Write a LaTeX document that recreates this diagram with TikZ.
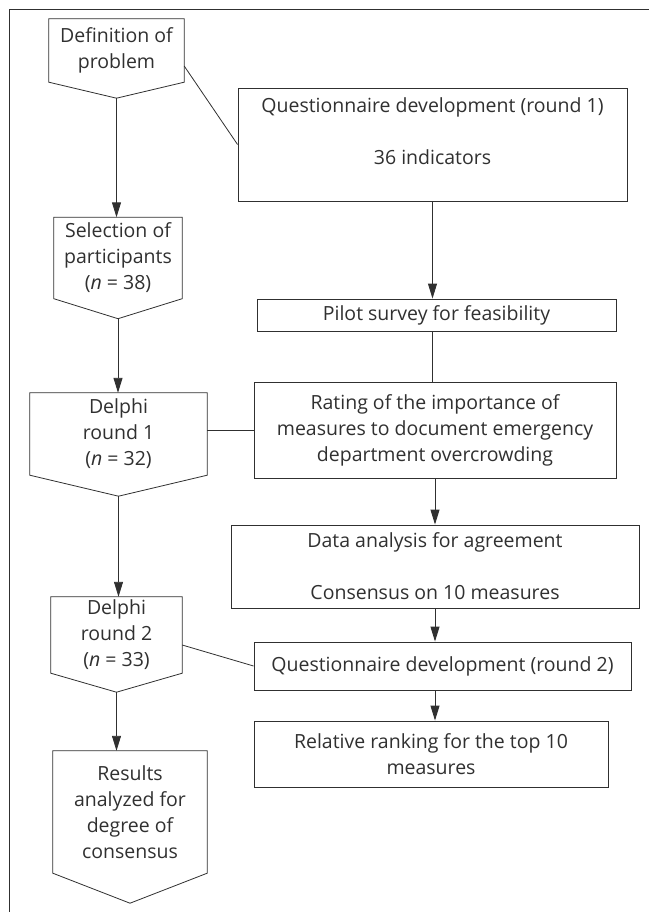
\documentclass[tikz,border=0pt]{standalone}
\usepackage{fontspec}
\setmainfont{Open Sans}
\usetikzlibrary{arrows.meta}
\usepackage{xcolor}
\definecolor{ink}{HTML}{303030}

\begin{document}
\begin{tikzpicture}[x=1pt,y=-1pt]
        \tikzset{
            every node/.style={
                font=\fontsize{19.5}{26}\selectfont,
                text=ink,
                align=center,
                inner sep=0pt
            },
            box/.style={draw=ink,line width=0.9pt},
            link/.style={draw=ink,line width=0.8pt},
            flow/.style={draw=ink,line width=0.9pt,
                -{Triangle[length=15pt,width=9pt]}}
        }
        \useasboundingbox (0,0) rectangle (649,912);
        % outer frame (top and left only)
        \draw[link] (9,912) -- (9,9) -- (649,9);
        % left column (pentagons)
        \node[minimum width=135pt,minimum height=63pt] (def) at (116.5,50.5)
            {Definition of\\problem};
        \node[minimum width=128pt,minimum height=81pt] (sel) at (118,258)
            {Selection of\\participants\\(\textit{n} = 38)};
        \node[minimum width=177pt,minimum height=82pt] (dr1) at (118.5,434)
            {Delphi\\round 1\\(\textit{n} = 32)};
        \node[minimum width=131pt,minimum height=76pt] (dr2) at (116.5,635)
            {Delphi\\round 2\\(\textit{n} = 33)};
        \node[minimum width=154pt,minimum height=122pt] (res) at (130,812)
            {Results\\analyzed for\\degree of\\consensus};
        % right column (boxes)
        \node[box,minimum width=389pt,minimum height=113pt] (qr1) at (432.5,144.5)
            {Questionnaire development (round 1)\\ \\36 indicators\\ \mbox{}};
        \node[box,minimum width=359pt,minimum height=32pt] (pilot) at (436.5,315)
            {Pilot survey for feasibility};
        \node[box,minimum width=362pt,minimum height=96pt] (rate) at (435,430)
            {Rating of the importance of\\measures to document emergency\\department overcrowding};
        \node[box,minimum width=408pt,minimum height=83pt] (data) at (435,566.5)
            {Data analysis for agreement\\ \\Consensus on 10 measures};
        \node[box,minimum width=377pt,minimum height=48pt] (qr2) at (442.5,666)
            {Questionnaire development (round 2)};
        \node[box,minimum width=354pt,minimum height=66pt] (rank) at (431,754)
            {Relative ranking for the top 10\\measures};
        % pentagon outlines, with a named tip each
        \foreach \n/\t in {def/16,sel/20,dr1/21,dr2/19,res/30} {
            \coordinate (\n-tip) at ([yshift=-\t pt]\n.south);
            \draw[link] (\n.north west) -- (\n.north east) -- (\n.south east)
                -- (\n-tip) -- (\n.south west) -- cycle;
        }
        % left column arrows
        \draw[flow] (def-tip) -- (def-tip |- sel.north);
        \draw[flow] (sel-tip) -- (sel-tip |- dr1.north);
        \draw[flow] (dr1-tip) -- (dr1-tip |- dr2.north);
        \draw[flow] (dr2-tip) -- (dr2-tip |- res.north);
        % right column arrows
        \draw[flow] (qr1.south) -- (qr1.south |- pilot.north);
        \draw[link] (qr1.south |- pilot.south) -- (qr1.south |- rate.north);
        \draw[flow] (rate.south) -- (rate.south |- data.north);
        \draw[flow] (data.south) -- (data.south |- qr2.north);
        \draw[flow] (data.south |- qr2.south) -- (data.south |- rank.north);
        % links across
        \draw[link] ([yshift=-15.5pt]def.east) -- (qr1.west);
        \draw[link] (dr1.east |- rate.west) -- (rate.west);
        \draw[link] ([yshift=-10pt]dr2.east) -- (qr2.west);
\end{tikzpicture}
\end{document}
